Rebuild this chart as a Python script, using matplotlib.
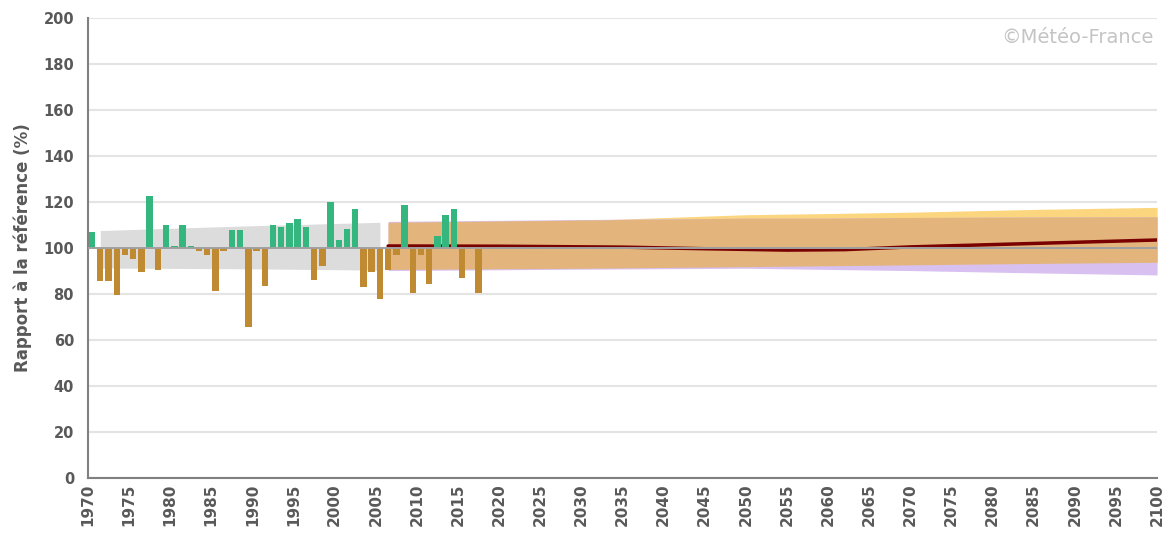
import numpy as np
import matplotlib
matplotlib.use("Agg")
import matplotlib.pyplot as plt

# observed yearly ratio to reference (%)
obs_years = list(range(1970, 2018))
obs_values = [107, 85.5, 85.5, 79.5, 97, 95.2, 89.5, 122.8, 90.3, 110,
              101, 110, 101, 98.5, 97, 81.2, 98.5, 107.7, 107.7, 65.5,
              98.5, 83.6, 110, 109, 110.9, 112.6, 109.3, 86.2, 92, 120,
              103.5, 108.4, 116.8, 82.9, 89.7, 77.8, 90.3, 97, 118.6, 80.3,
              97, 84.5, 105.2, 114.5, 116.8, 87.1, 100, 80.4]

# reference-period spread (grey band)
ref_years = [1971.5, 1988, 2005.5]
ref_low = [91.3, 91.0, 90.4]
ref_high = [107.6, 109.5, 111.2]

# projections
proj_years = [2006.5, 2030, 2050, 2060, 2070, 2085, 2100]
band_mid_low = [90.7, 91.2, 91.9, 92.3, 92.7, 93.3, 93.8]
band_mid_high = [111.2, 112.2, 113.0, 113.0, 113.3, 113.5, 113.6]
band_hi_high = [110.8, 112.0, 114.5, 115.0, 115.6, 116.8, 117.7]
band_lo_low = [90.2, 90.8, 91.2, 90.7, 90.2, 89.2, 88.3]
band_lo_high = [111.6, 112.4, 113.0, 113.0, 113.3, 113.5, 113.6]

med_years = [2006.5, 2020, 2035, 2045, 2055, 2062, 2070, 2080, 2090, 2100]
med_values = [100.9, 100.8, 100.4, 99.7, 99.1, 99.3, 100.5, 101.5, 102.5, 103.5]

GREEN = "#35b67f"
BROWN = "#c08a33"
TXT = "#595959"

fig = plt.figure(figsize=(11.71, 5.34), dpi=100)
ax = fig.add_axes([0.0751, 0.105, 0.913, 0.861])

ax.fill_between(ref_years, ref_low, ref_high, color="#dcdcdc", lw=0, zorder=1)

ax.fill_between(proj_years, band_mid_low, band_hi_high, color="#fbd67f", lw=0, zorder=1)
ax.fill_between(proj_years, band_lo_low, band_lo_high, color="#d8c0f0", lw=0, zorder=1.1)
ax.fill_between(proj_years, band_mid_low, band_mid_high, color="#e3b57c", lw=0, zorder=1.2)

ax.plot(med_years, med_values, color="#7a0000", lw=2.5, zorder=2, solid_capstyle="round")

yrs = np.array(obs_years) + 0.5
vals = np.array(obs_values) - 100
cols = [GREEN if v >= 0 else BROWN for v in vals]
ax.bar(yrs, vals, bottom=100, width=0.78, color=cols, zorder=3)

ax.axhline(100, color="#a0a0a0", lw=1.4, zorder=4)

ax.set_xlim(1970, 2100)
ax.set_ylim(0, 200)
ax.set_yticks(np.arange(0, 201, 20))
ax.set_xticks(np.arange(1970, 2101, 5))
ax.set_xticklabels([str(y) for y in range(1970, 2101, 5)], rotation=90)
ax.grid(axis="y", color="#e4e4e4", lw=1.5, zorder=0)
ax.set_axisbelow(True)
ax.tick_params(length=0, labelcolor=TXT)
for lab in ax.get_yticklabels():
    lab.set_fontsize(10.5)
    lab.set_fontweight("bold")
for lab in ax.get_xticklabels():
    lab.set_fontsize(11)
    lab.set_fontweight("bold")
ax.tick_params(axis="y", pad=10)
ax.tick_params(axis="x", pad=4)

for s in ["top", "right"]:
    ax.spines[s].set_visible(False)
for s in ["left", "bottom"]:
    ax.spines[s].set_color("#808080")
    ax.spines[s].set_linewidth(1.5)

ax.set_ylabel("Rapport à la référence (%)", fontsize=12, fontweight="bold",
              color=TXT, labelpad=8)

fig.text(0.985, 0.93, "©Météo-France", ha="right", va="center", fontsize=14,
         color="#c4c4c4")

fig.savefig("out.png", dpi=100)
